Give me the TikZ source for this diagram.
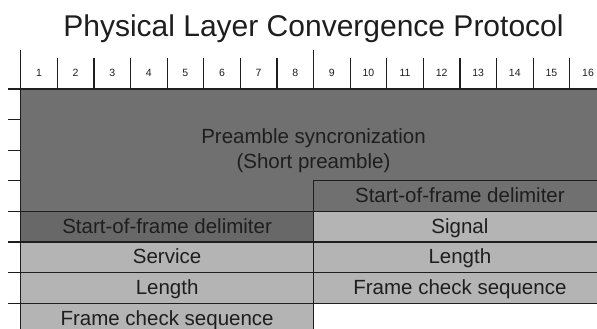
\documentclass[tikz,border=0pt]{standalone}
\usepackage{fontspec}
\setmainfont{Liberation Sans}
\usetikzlibrary{positioning}
\definecolor{darkfield}{HTML}{707070}
\definecolor{sfdfield}{HTML}{686868}
\definecolor{lightfield}{HTML}{B4B4B4}
\definecolor{inkgray}{HTML}{1E1E1E}

\begin{document}
\begin{tikzpicture}[x=1pt, y=-1pt,
  rule/.style={draw=inkgray, line width=1.2pt},
  field/.style={rule, outer sep=0pt, inner sep=0pt,
    minimum width=292.8pt, minimum height=30.6pt, text=inkgray,
    text height=14.7pt, text depth=1.5pt,
    font=\fontsize{20.5}{24}\selectfont},
  bitnum/.style={text=inkgray, font=\fontsize{10.5}{12}\selectfont}]
\useasboundingbox (0,0) rectangle (597,329);
\clip (0,0) rectangle (597,329);
% title
\node[anchor=base, text=inkgray, font=\fontsize{30}{36}\selectfont] (title) at (313.5,37) {Physical Layer Convergence Protocol};
% preamble area
\fill[darkfield] (20.7,89) rectangle (606.3,211.4);
\node[align=center, text=inkgray, font=\fontsize{20.5}{25}\selectfont] (pre) at (313.5,150.2) {Preamble syncronization\\(Short preamble)};
% right half fields
\node[field, fill=darkfield, anchor=north west] (sfdr) at (313.5,180.8) {Start-of-frame delimiter};
\node[field, fill=lightfield, below=0pt of sfdr] (signal) {Signal};
\node[field, fill=lightfield, below=0pt of signal] (lenr) {Length};
\node[field, fill=lightfield, below=0pt of lenr] (fcsr) {Frame check sequence};
% left half fields
\node[field, fill=sfdfield, anchor=north west] (sfdl) at (20.7,211.4) {Start-of-frame delimiter};
\node[field, fill=lightfield, below=0pt of sfdl] (service) {Service};
\node[field, fill=lightfield, below=0pt of service] (lenl) {Length};
\node[field, fill=lightfield, below=0pt of lenl] (fcsl) {Frame check sequence};
% bit ruler
\foreach \x in {1,...,16}
  \node[bitnum] (bit\x) at ({20.7+36.6*(\x-0.5)},73.3) {\x};
\foreach \x in {1,...,15}
  \draw[rule] ({20.7+36.6*\x},58) -- ({20.7+36.6*\x},89);
\draw[rule] (313.5,50) -- (313.5,58);
\draw[rule] (20.7,50) -- (20.7,329);
\draw[rule] (8,89) -- (606.3,89);
\foreach \y in {119.6,150.2,180.8,211.4,242,272.6,303.2}
  \draw[rule] (8,\y) -- (20.7,\y);
\end{tikzpicture}
\end{document}
